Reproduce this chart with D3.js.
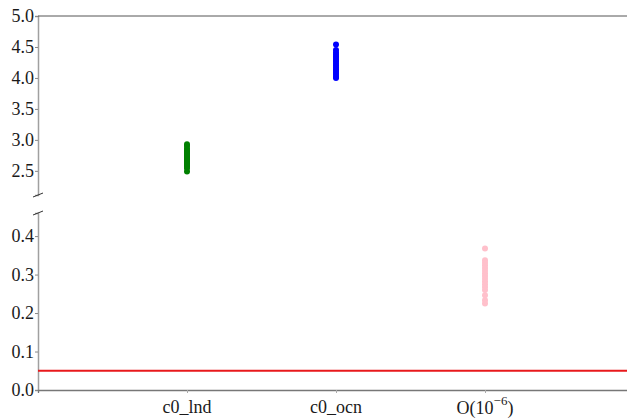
<!DOCTYPE html>
<html>
<head>
<meta charset="utf-8">
<script src="https://cdn.jsdelivr.net/npm/d3@7"></script>
<style>
  body { margin: 0; background: #fff; }
  svg text { font-family: "Liberation Serif", "Times New Roman", serif; fill: #1a1a1a; }
</style>
</head>
<body>
<div id="chart"></div>
<script>
// broken y axis scatter: coefficients on top panel, O(1e-6) on bottom panel

var categories = ["c0_lnd", "c0_ocn", "O(10^-6)"];
var lndValues = [2.93, 2.90, 2.86, 2.83, 2.81, 2.79, 2.77, 2.75, 2.73, 2.71, 2.69, 2.67, 2.65, 2.63, 2.61, 2.59, 2.57, 2.54, 2.49];
var ocnValues = [4.54, 4.45, 4.41, 4.38, 4.35, 4.32, 4.29, 4.26, 4.23, 4.20, 4.17, 4.14, 4.11, 4.08, 4.05, 4.02, 4.00];
var oValues = [0.368, 0.337, 0.331, 0.324, 0.317, 0.310, 0.303, 0.296, 0.289, 0.282, 0.275, 0.268, 0.260, 0.246, 0.233, 0.225];
var topTicks = [2.5, 3.0, 3.5, 4.0, 4.5, 5.0];
var bottomTicks = [0.0, 0.1, 0.2, 0.3, 0.4];
var thresholdValue = 0.05;

var width = 627, height = 419;
var left = 38;

var svg = d3.select("#chart").append("svg")
    .attr("width", width)
    .attr("height", height);

var x = d3.scaleLinear().domain([0, 4]).range([left, left + 4 * 149]);

var yTop = d3.scaleLinear().domain([2.11, 5.0]).range([195, 16]);
var yBot = d3.scaleLinear().domain([0, 0.46]).range([390, 213]);

// top panel axis
var gTop = svg.append("g").attr("transform", "translate(" + left + ",0)");
gTop.call(d3.axisLeft(yTop).tickValues(topTicks).tickFormat(d3.format(".1f")).tickSizeOuter(0).tickSize(3));
gTop.select(".domain").attr("stroke", "#a0a0a0").attr("stroke-width", 1.5);
gTop.selectAll(".tick line").attr("stroke", "#888");
gTop.selectAll(".tick text").attr("font-size", 18).attr("x", -4);

// bottom panel axis
var gBot = svg.append("g").attr("transform", "translate(" + left + ",0)");
gBot.call(d3.axisLeft(yBot).tickValues(bottomTicks).tickFormat(d3.format(".1f")).tickSizeOuter(0).tickSize(3));
gBot.select(".domain").attr("stroke", "#a0a0a0").attr("stroke-width", 1.5);
gBot.selectAll(".tick line").attr("stroke", "#888");
gBot.selectAll(".tick text").attr("font-size", 18).attr("x", -4);

// top spine
svg.append("line")
    .attr("x1", left).attr("x2", width)
    .attr("y1", yTop(5.0)).attr("y2", yTop(5.0))
    .attr("stroke", "#555").attr("stroke-width", 1);

// x axis at bottom
var gX = svg.append("g").attr("transform", "translate(0," + yBot(0) + ")");
gX.call(d3.axisBottom(x).tickValues([1, 2, 3]).tickFormat("").tickSizeOuter(0).tickSize(3));
gX.select(".domain").attr("stroke", "#777").attr("stroke-width", 1.3);
gX.selectAll(".tick line").attr("stroke", "#aaa");

// x labels
svg.append("text").attr("x", x(1)).attr("y", 413).attr("text-anchor", "middle")
    .attr("font-size", 18).text(categories[0]);
svg.append("text").attr("x", x(2)).attr("y", 413).attr("text-anchor", "middle")
    .attr("font-size", 18).text(categories[1]);
var oLabel = svg.append("text").attr("x", x(3)).attr("y", 414).attr("text-anchor", "middle")
    .attr("font-size", 18);
oLabel.append("tspan").text("O(10");
oLabel.append("tspan").attr("dy", -9).attr("font-size", 13).text("\u22126");
oLabel.append("tspan").attr("dy", 9).text(")");

// break marks
[195, 213].forEach(function(yy) {
  svg.append("line")
      .attr("x1", left - 5).attr("y1", yy + 2)
      .attr("x2", left + 5).attr("y2", yy - 2)
      .attr("stroke", "#333").attr("stroke-width", 1);
});

// threshold line
svg.append("line")
    .attr("x1", left).attr("x2", width)
    .attr("y1", yBot(thresholdValue)).attr("y2", yBot(thresholdValue))
    .attr("stroke", "#e8191c").attr("stroke-width", 2);

// points
svg.append("g").selectAll("circle")
    .data(lndValues)
    .enter().append("circle")
      .attr("cx", x(1))
      .attr("cy", function(d) { return yTop(d); })
      .attr("r", 3)
      .attr("fill", "green");

svg.append("g").selectAll("circle")
    .data(ocnValues)
    .enter().append("circle")
      .attr("cx", x(2))
      .attr("cy", function(d) { return yTop(d); })
      .attr("r", 3)
      .attr("fill", "blue");

svg.append("g").selectAll("circle")
    .data(oValues)
    .enter().append("circle")
      .attr("cx", x(3))
      .attr("cy", function(d) { return yBot(d); })
      .attr("r", 3)
      .attr("fill", "pink");
</script>
</body>
</html>
